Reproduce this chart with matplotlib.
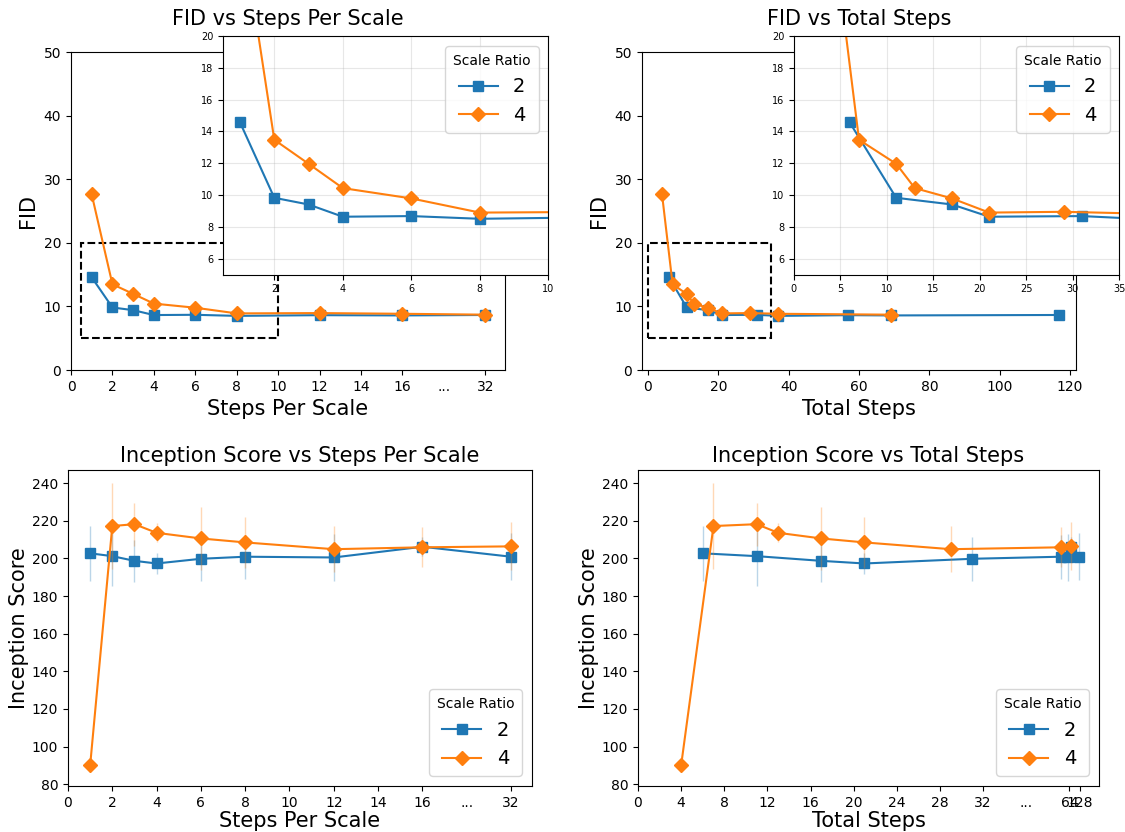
import numpy as np
import matplotlib.pyplot as plt
from matplotlib.patches import Rectangle

# valores
steps_per_scale = [1, 2, 3, 4, 6, 8, 12, 16, 32]
total_steps_r2 = [6, 11, 17, 21, 31, 37, 57, 69, 117]
total_steps_r4 = [4, 7, 11, 13, 17, 21, 29, 37, 69]

fid_r2 = [14.57, 9.83, 9.41, 8.64, 8.68, 8.51, 8.62, 8.58, 8.65]
fid_r4 = [27.6, 13.48, 11.97, 10.44, 9.79, 8.9, 8.95, 8.84, 8.7]

is_r2 = [202.7, 201.2, 198.7, 197.3, 199.8, 200.9, 200.5, 206.2, 200.9]
is_r2_std = [14.5, 15.8, 11.0, 5.5, 11.7, 11.6, 12.4, 5.0, 12.4]
is_r4 = [90.0, 217.2, 218.2, 213.6, 210.6, 208.5, 204.9, 205.9, 206.4]
is_r4_std = [3.5, 23.0, 11.5, 5.0, 16.8, 13.6, 12.3, 10.7, 12.7]

ratios = ["2", "4"]
colors = ["#1f77b4", "#ff7f0e"]
markers = ["s", "D"]

steps_ticks = [0, 2, 4, 6, 8, 10, 12, 14, 16, 32]
total_ticks = [0, 4, 8, 12, 16, 20, 24, 28, 32, 64, 128]


# eixo comprimido depois do "..."
def pos_steps(v):
    v = np.asarray(v, dtype=float)
    return np.where(v <= 16, v, 15 + np.log2(v))


def pos_total(v):
    v = np.asarray(v, dtype=float)
    return np.where(v <= 32, v, 34 + np.log2(v))


def set_xaxis(ax, ticks, posfun, dots_pos):
    ax.set_xticks(posfun(ticks), [str(t) for t in ticks])
    ax.set_xticks([dots_pos], ["..."], minor=True)
    ax.tick_params(axis="x", which="minor", length=0, pad=7)
    ax.tick_params(labelsize=10)


fig = plt.figure(figsize=(11.25, 8.32), dpi=100)
W, H = 1125, 832


def add_ax(l, t, r, b):
    return fig.add_axes([l / W, 1 - b / H, (r - l) / W, (b - t) / H])


ax_tl = add_ax(71, 52, 505, 370)
ax_tr = add_ax(642, 52, 1076, 370)
ax_bl = add_ax(68, 470, 532, 786)
ax_br = add_ax(638, 470, 1099, 786)

fids = [fid_r2, fid_r4]
iss = [is_r2, is_r4]
iss_std = [is_r2_std, is_r4_std]


# Gráficos de FID com zoom
def fid_panel(ax, xs, titulo, xlabel, box, xlim, inset_ticks):
    for x, y, c, m, lab in zip(xs, fids, colors, markers, ratios):
        ax.plot(x, y, color=c, marker=m, markersize=7, lw=1.5, label=lab)
    ax.add_patch(Rectangle((box[0], 5), box[1] - box[0], 15, fill=False,
                           ls="--", lw=1.5, ec="black"))
    ax.set_ylim(0, 50)
    ax.set_xlim(*xlim)
    ax.tick_params(labelsize=10)
    ax.set_xlabel(xlabel, fontsize=15)
    ax.set_ylabel("FID", fontsize=15)
    ax.set_title(titulo, fontsize=15, y=1.06)

    axins = ax.inset_axes([0.35, 0.3, 0.75, 0.75])
    for x, y, c, m, lab in zip(xs, fids, colors, markers, ratios):
        axins.plot(x, y, color=c, marker=m, markersize=7, lw=1.5, label=lab)
    axins.set_xlim(box[0], box[1])
    axins.set_ylim(5, 20)
    axins.set_xticks(inset_ticks)
    axins.set_yticks([6, 8, 10, 12, 14, 16, 18, 20])
    axins.tick_params(labelsize=7)
    axins.grid(alpha=0.3)
    axins.legend(title="Scale Ratio", fontsize=14, title_fontsize=10,
                 loc="upper right")
    return axins


xs = [pos_steps(steps_per_scale), pos_steps(steps_per_scale)]
fid_panel(ax_tl, xs, "FID vs Steps Per Scale", "Steps Per Scale",
          (0.5, 10), (0.05, 20.95), [2, 4, 6, 8, 10])
set_xaxis(ax_tl, steps_ticks, pos_steps, 18)

xs = [total_steps_r2, total_steps_r4]
fid_panel(ax_tr, xs, "FID vs Total Steps", "Total Steps",
          (0, 35), (-1.7, 121.7), [0, 5, 10, 15, 20, 25, 30, 35])


# Gráficos de Inception Score
def is_panel(ax, xs, titulo, xlabel, ticks, posfun, dots_pos, xlim):
    for x, y, e, c, m, lab in zip(xs, iss, iss_std, colors, markers, ratios):
        ax.errorbar(x, y, yerr=e, fmt="none", ecolor=c, alpha=0.3, elinewidth=1)
        ax.plot(x, y, color=c, marker=m, markersize=7, lw=1.5, label=lab)
    ax.set_ylim(79, 247)
    ax.set_xlim(*xlim)
    set_xaxis(ax, ticks, posfun, dots_pos)
    ax.set_xlabel(xlabel, fontsize=15, labelpad=1)
    ax.set_ylabel("Inception Score", fontsize=15, labelpad=2)
    ax.set_title(titulo, fontsize=15)
    ax.legend(title="Scale Ratio", fontsize=14, title_fontsize=10,
              loc="lower right")


xs = [pos_steps(steps_per_scale), pos_steps(steps_per_scale)]
is_panel(ax_bl, xs, "Inception Score vs Steps Per Scale", "Steps Per Scale",
         steps_ticks, pos_steps, 18, (0, 20.95))
xs = [pos_total(total_steps_r2), pos_total(total_steps_r4)]
is_panel(ax_br, xs, "Inception Score vs Total Steps", "Total Steps",
         total_ticks, pos_total, 36, (0, 42.75))

fig.savefig("out.png", dpi=100)
